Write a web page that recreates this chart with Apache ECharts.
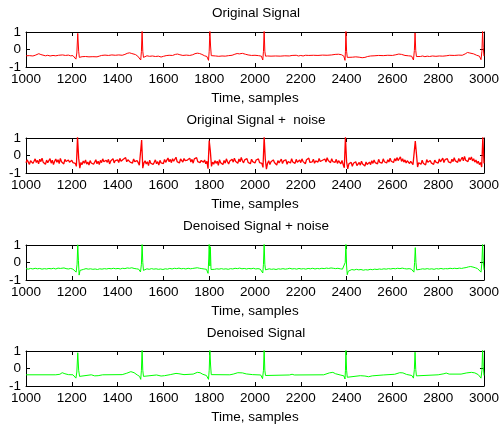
<!DOCTYPE html>
<html>
<head>
<meta charset="utf-8">
<script src="https://cdn.jsdelivr.net/npm/echarts@6/dist/echarts.min.js"></script>
<style>
html,body{margin:0;padding:0;background:#fff;}
#c{width:502px;height:427px;}
</style>
</head>
<body>
<div id="c"></div>
<script>
// ---- Data ----
var titles = ['Original Signal', 'Original Signal +  noise', 'Denoised Signal + noise', 'Denoised Signal'];
var xLabel = 'Time, samples';
var xTicks = [1000, 1200, 1400, 1600, 1800, 2000, 2200, 2400, 2600, 2800, 3000];
var yTicks = [-1, 0, 1];

// Original signal [sample, value]
var originalSignal = [[1000,-0.36],[1015,-0.35],[1030,-0.37],[1040,-0.33],[1048,-0.26],[1056,-0.24],[1065,-0.29],[1072,-0.34],[1085,-0.36],[1095,-0.33],[1105,-0.37],[1118,-0.34],[1130,-0.36],[1142,-0.33],[1150,-0.35],[1160,-0.31],[1172,-0.34],[1185,-0.32],[1195,-0.36],[1205,-0.35],[1212,-0.40],[1218,-0.55],[1222,-0.20],[1226,0.92],[1230,-0.10],[1233,-0.45],[1238,-0.37],[1245,-0.41],[1252,-0.36],[1260,-0.40],[1268,-0.37],[1275,-0.42],[1283,-0.38],[1292,-0.41],[1300,-0.39],[1310,-0.42],[1320,-0.38],[1330,-0.34],[1345,-0.32],[1360,-0.34],[1375,-0.31],[1390,-0.33],[1405,-0.31],[1420,-0.33],[1432,-0.28],[1442,-0.22],[1452,-0.19],[1462,-0.23],[1470,-0.20],[1478,-0.29],[1488,-0.38],[1496,-0.42],[1501,-0.60],[1504,-0.10],[1507,1.10],[1510,-0.10],[1513,-0.45],[1518,-0.38],[1528,-0.36],[1540,-0.39],[1552,-0.37],[1565,-0.40],[1578,-0.38],[1590,-0.43],[1600,-0.39],[1612,-0.35],[1625,-0.33],[1640,-0.34],[1652,-0.28],[1662,-0.26],[1672,-0.30],[1685,-0.34],[1700,-0.32],[1715,-0.34],[1728,-0.30],[1738,-0.24],[1748,-0.21],[1758,-0.23],[1768,-0.28],[1780,-0.36],[1790,-0.40],[1797,-0.62],[1800,-0.10],[1803,1.10],[1806,0.20],[1809,-0.35],[1815,-0.38],[1828,-0.37],[1842,-0.39],[1856,-0.37],[1870,-0.38],[1885,-0.35],[1900,-0.33],[1912,-0.27],[1922,-0.23],[1932,-0.25],[1945,-0.22],[1958,-0.27],[1970,-0.31],[1985,-0.34],[2000,-0.33],[2015,-0.35],[2028,-0.38],[2034,-0.60],[2037,-0.10],[2040,1.10],[2043,-0.10],[2046,-0.38],[2055,-0.37],[2070,-0.38],[2090,-0.37],[2110,-0.38],[2130,-0.36],[2150,-0.37],[2162,-0.34],[2170,-0.36],[2180,-0.33],[2190,-0.37],[2200,-0.34],[2210,-0.37],[2220,-0.33],[2235,-0.34],[2255,-0.33],[2275,-0.34],[2295,-0.32],[2315,-0.33],[2335,-0.31],[2350,-0.28],[2365,-0.27],[2378,-0.30],[2388,-0.38],[2393,-0.62],[2395,-0.10],[2397,1.10],[2400,-0.10],[2403,-0.45],[2410,-0.43],[2425,-0.44],[2440,-0.42],[2455,-0.44],[2468,-0.47],[2480,-0.45],[2492,-0.40],[2505,-0.37],[2520,-0.36],[2540,-0.34],[2560,-0.35],[2580,-0.33],[2600,-0.34],[2615,-0.30],[2628,-0.26],[2640,-0.28],[2655,-0.34],[2670,-0.36],[2684,-0.38],[2692,-0.60],[2696,-0.05],[2699,0.95],[2702,-0.05],[2705,-0.40],[2712,-0.36],[2722,-0.40],[2732,-0.37],[2742,-0.41],[2752,-0.38],[2762,-0.40],[2775,-0.37],[2790,-0.39],[2805,-0.37],[2820,-0.38],[2835,-0.36],[2850,-0.33],[2870,-0.34],[2890,-0.32],[2905,-0.33],[2918,-0.25],[2928,-0.17],[2938,-0.20],[2946,-0.16],[2955,-0.25],[2968,-0.33],[2980,-0.38],[2987,-0.58],[2991,-0.10],[2994,1.10],[2997,0.10],[3000,-0.38]];

// Original signal + noise, one value every 5 samples from 1000 to 3000
var noisyStart = 1000, noisyStep = 5;
var noisySignal = [
-0.42,-0.25,-0.38,-0.51,-0.30,-0.22,-0.45,-0.33,-0.19,-0.40,-0.28,-0.47,-0.21,-0.35,-0.15,-0.38,-0.29,-0.50,-0.26,-0.41,
-0.31,-0.18,-0.44,-0.27,-0.52,-0.33,-0.20,-0.39,-0.24,-0.46,-0.17,-0.36,-0.29,-0.48,-0.22,-0.34,-0.43,-0.26,-0.38,-0.30,
-0.27,-0.41,-0.33,-0.45,-0.62,1.05,-0.15,-0.72,-0.40,-0.52,-0.31,-0.44,-0.26,-0.49,-0.37,-0.55,-0.29,-0.43,-0.35,-0.50,
-0.38,-0.24,-0.47,-0.33,-0.52,-0.28,-0.41,-0.19,-0.36,-0.45,-0.27,-0.39,-0.22,-0.48,-0.31,-0.37,-0.18,-0.42,-0.29,-0.35,
-0.25,-0.40,-0.16,-0.33,-0.44,-0.21,-0.30,-0.12,-0.36,-0.24,-0.19,-0.38,-0.27,-0.43,-0.20,-0.35,-0.46,-0.29,-0.41,-0.56,
-0.65,0.88,-0.72,-0.42,-0.30,-0.49,-0.36,-0.58,-0.27,-0.44,-0.33,-0.51,-0.39,-0.25,-0.47,-0.35,-0.55,-0.28,-0.42,-0.37,
-0.46,-0.23,-0.39,-0.31,-0.14,-0.36,-0.22,-0.41,-0.18,-0.33,-0.27,-0.10,-0.35,-0.24,-0.43,-0.20,-0.31,-0.38,-0.17,-0.29,
-0.40,-0.26,-0.34,-0.15,-0.37,-0.22,-0.44,-0.19,-0.30,-0.12,-0.35,-0.24,-0.41,-0.28,-0.18,-0.39,-0.26,-0.47,-0.33,-0.75,
0.86,0.25,-0.62,-0.38,-0.50,-0.29,-0.45,-0.33,-0.56,-0.24,-0.41,-0.37,-0.52,-0.28,-0.44,-0.19,-0.36,-0.48,-0.31,-0.40,
-0.22,-0.38,-0.15,-0.33,-0.27,-0.45,-0.20,-0.36,-0.11,-0.30,-0.42,-0.25,-0.34,-0.18,-0.39,-0.28,-0.47,-0.21,-0.35,-0.30,
-0.43,-0.26,-0.37,-0.19,-0.41,-0.32,-0.45,-0.68,1.05,-0.20,-0.78,-0.44,-0.30,-0.52,-0.36,-0.47,-0.25,-0.40,-0.33,-0.55,
-0.29,-0.42,-0.36,-0.21,-0.46,-0.31,-0.39,-0.24,-0.50,-0.34,-0.27,-0.43,-0.18,-0.37,-0.30,-0.45,-0.22,-0.38,-0.33,-0.26,
-0.41,-0.19,-0.35,-0.28,-0.47,-0.24,-0.32,-0.15,-0.40,-0.29,-0.36,-0.21,-0.44,-0.31,-0.25,-0.38,-0.17,-0.34,-0.42,-0.27,
-0.33,-0.20,-0.37,-0.13,-0.29,-0.24,-0.41,-0.18,-0.35,-0.26,-0.39,-0.22,-0.45,-0.30,-0.36,-0.48,-0.28,-0.52,-0.70,1.05,
-0.35,-0.76,-0.48,-0.57,-0.39,-0.62,-0.44,-0.53,-0.36,-0.58,-0.47,-0.40,-0.55,-0.33,-0.49,-0.42,-0.60,-0.37,-0.51,-0.45,
-0.38,-0.52,-0.30,-0.45,-0.26,-0.41,-0.35,-0.48,-0.22,-0.39,-0.31,-0.44,-0.19,-0.36,-0.28,-0.43,-0.24,-0.37,-0.15,-0.33,
-0.27,-0.40,-0.18,-0.31,-0.12,-0.29,-0.22,-0.08,-0.34,-0.19,-0.38,-0.25,-0.43,-0.30,-0.21,-0.46,-0.33,-0.40,-0.52,-0.62,
0.82,0.10,-0.66,-0.41,-0.32,-0.50,-0.27,-0.44,-0.36,-0.54,-0.23,-0.39,-0.47,-0.29,-0.42,-0.35,-0.51,-0.26,-0.38,-0.31,
-0.44,-0.20,-0.36,-0.28,-0.15,-0.40,-0.24,-0.33,-0.18,-0.37,-0.29,-0.42,-0.21,-0.35,-0.13,-0.31,-0.26,-0.39,-0.17,-0.34,
-0.23,-0.10,-0.30,-0.05,-0.27,-0.16,-0.35,-0.12,-0.24,-0.08,-0.31,-0.19,-0.38,-0.26,-0.45,-0.33,-0.52,-0.40,-0.66,1.05,
-0.45];

// Denoised signal + noise [sample, value]
var denoisedNoisy = [[1000,-0.35],[1010,-0.38],[1020,-0.34],[1030,-0.37],[1040,-0.33],[1050,-0.36],[1060,-0.34],[1070,-0.38],[1080,-0.35],[1090,-0.37],[1100,-0.34],[1110,-0.36],[1120,-0.33],[1130,-0.37],[1140,-0.32],[1150,-0.34],[1158,-0.28],[1166,-0.31],[1175,-0.35],[1185,-0.37],[1195,-0.34],[1205,-0.38],[1213,-0.36],[1219,-0.55],[1223,-0.10],[1226,1.02],[1229,0.10],[1232,-0.72],[1236,-0.45],[1242,-0.37],[1252,-0.39],[1262,-0.35],[1272,-0.38],[1282,-0.36],[1292,-0.39],[1302,-0.37],[1312,-0.40],[1322,-0.36],[1332,-0.38],[1342,-0.35],[1352,-0.37],[1362,-0.34],[1372,-0.36],[1382,-0.33],[1392,-0.36],[1402,-0.34],[1412,-0.37],[1422,-0.33],[1432,-0.35],[1442,-0.31],[1452,-0.33],[1462,-0.30],[1472,-0.34],[1482,-0.36],[1492,-0.38],[1500,-0.54],[1504,-0.10],[1507,1.05],[1510,0.00],[1513,-0.45],[1518,-0.38],[1528,-0.36],[1538,-0.39],[1548,-0.35],[1558,-0.38],[1568,-0.36],[1578,-0.39],[1588,-0.37],[1598,-0.40],[1608,-0.36],[1618,-0.38],[1628,-0.34],[1638,-0.37],[1648,-0.33],[1658,-0.35],[1668,-0.32],[1678,-0.36],[1688,-0.34],[1698,-0.37],[1708,-0.33],[1718,-0.36],[1728,-0.34],[1738,-0.32],[1748,-0.30],[1758,-0.33],[1768,-0.35],[1778,-0.37],[1788,-0.39],[1795,-0.62],[1798,0.20],[1800,1.10],[1803,-0.20],[1805,0.90],[1808,-0.40],[1813,-0.37],[1823,-0.39],[1833,-0.36],[1843,-0.38],[1853,-0.35],[1863,-0.38],[1873,-0.36],[1883,-0.39],[1893,-0.35],[1903,-0.37],[1913,-0.33],[1923,-0.35],[1933,-0.32],[1943,-0.36],[1953,-0.34],[1963,-0.37],[1973,-0.34],[1983,-0.36],[1993,-0.33],[2003,-0.37],[2013,-0.35],[2023,-0.38],[2030,-0.42],[2034,-0.60],[2037,-0.10],[2040,1.10],[2043,-0.10],[2046,-0.42],[2052,-0.38],[2062,-0.36],[2072,-0.39],[2082,-0.37],[2092,-0.40],[2102,-0.36],[2112,-0.38],[2122,-0.35],[2132,-0.38],[2142,-0.36],[2152,-0.33],[2162,-0.37],[2172,-0.35],[2182,-0.38],[2192,-0.34],[2202,-0.37],[2212,-0.35],[2222,-0.38],[2232,-0.34],[2242,-0.36],[2252,-0.33],[2262,-0.37],[2272,-0.34],[2282,-0.36],[2292,-0.33],[2302,-0.35],[2312,-0.32],[2322,-0.34],[2332,-0.31],[2342,-0.33],[2352,-0.35],[2362,-0.33],[2372,-0.36],[2382,-0.38],[2390,-0.42],[2394,0.00],[2397,1.10],[2400,-0.20],[2403,-0.70],[2407,-0.50],[2413,-0.42],[2423,-0.40],[2433,-0.43],[2443,-0.39],[2453,-0.42],[2463,-0.40],[2473,-0.44],[2483,-0.41],[2493,-0.43],[2503,-0.39],[2513,-0.41],[2523,-0.38],[2533,-0.40],[2543,-0.37],[2553,-0.39],[2563,-0.36],[2573,-0.38],[2583,-0.35],[2593,-0.37],[2603,-0.34],[2613,-0.36],[2623,-0.33],[2633,-0.35],[2643,-0.32],[2653,-0.35],[2663,-0.37],[2673,-0.35],[2683,-0.38],[2690,-0.40],[2694,-0.55],[2697,0.00],[2700,0.85],[2703,0.00],[2706,-0.42],[2712,-0.37],[2722,-0.39],[2732,-0.36],[2742,-0.38],[2752,-0.35],[2762,-0.38],[2772,-0.36],[2782,-0.39],[2792,-0.35],[2802,-0.37],[2812,-0.34],[2822,-0.37],[2832,-0.35],[2842,-0.36],[2852,-0.33],[2862,-0.35],[2872,-0.33],[2882,-0.35],[2892,-0.32],[2902,-0.34],[2912,-0.31],[2922,-0.29],[2932,-0.25],[2942,-0.23],[2952,-0.26],[2962,-0.30],[2972,-0.35],[2980,-0.40],[2987,-0.55],[2991,0.00],[2994,1.10],[2997,0.10],[3000,-0.42]];

// Denoised signal [sample, value]
var denoisedSignal = [[1000,-0.36],[1130,-0.36],[1148,-0.33],[1158,-0.24],[1170,-0.30],[1185,-0.35],[1205,-0.36],[1212,-0.42],[1218,-0.55],[1222,-0.20],[1226,0.90],[1230,-0.10],[1234,-0.45],[1240,-0.36],[1285,-0.36],[1300,-0.42],[1315,-0.41],[1335,-0.36],[1420,-0.35],[1440,-0.27],[1458,-0.18],[1472,-0.24],[1486,-0.37],[1496,-0.45],[1501,-0.62],[1504,-0.10],[1507,1.10],[1510,-0.10],[1513,-0.45],[1520,-0.37],[1570,-0.37],[1590,-0.43],[1605,-0.41],[1630,-0.35],[1655,-0.28],[1668,-0.30],[1690,-0.35],[1730,-0.32],[1748,-0.22],[1760,-0.24],[1772,-0.33],[1788,-0.40],[1797,-0.62],[1800,-0.10],[1803,1.10],[1806,0.20],[1809,-0.35],[1815,-0.37],[1890,-0.36],[1905,-0.32],[1925,-0.24],[1945,-0.25],[1962,-0.31],[1990,-0.35],[2025,-0.37],[2033,-0.58],[2037,-0.10],[2040,1.10],[2043,-0.10],[2046,-0.40],[2052,-0.37],[2150,-0.37],[2162,-0.33],[2172,-0.37],[2300,-0.36],[2325,-0.25],[2340,-0.22],[2352,-0.30],[2375,-0.38],[2388,-0.42],[2393,-0.60],[2395,-0.10],[2397,1.10],[2400,-0.10],[2403,-0.50],[2410,-0.42],[2460,-0.41],[2480,-0.43],[2496,-0.47],[2512,-0.42],[2560,-0.37],[2610,-0.33],[2632,-0.24],[2646,-0.25],[2662,-0.34],[2685,-0.40],[2692,-0.55],[2696,-0.05],[2699,0.93],[2702,-0.05],[2705,-0.42],[2712,-0.37],[2800,-0.36],[2825,-0.30],[2835,-0.26],[2848,-0.32],[2900,-0.32],[2925,-0.25],[2945,-0.22],[2960,-0.25],[2975,-0.35],[2987,-0.55],[2991,-0.10],[2994,1.10],[2997,0.10],[3000,-0.40]];

var lineColors = ['#ff0000', '#ff0000', '#00ff00', '#00ff00'];

// ---- Build chart ----
var noisyData = noisySignal.map(function (v, i) { return [noisyStart + i * noisyStep, v]; });
var seriesData = [originalSignal, noisyData, denoisedNoisy, denoisedSignal];
var lineWidths = [1, 1.3, 1, 1];

var FONT = "'Liberation Sans', Arial, sans-serif";
var gridTops = [32, 138, 245, 351];
var gridH = 35;
var titleCenters = [13, 120, 226, 333];
var plainNum = function (v) { return String(v); };

var grids = [], xAxes = [], yAxes = [], series = [], titleArr = [];
var tickStyle = { show: true, inside: true, length: 4, lineStyle: { color: '#000', width: 1 } };
var lineSt = { show: true, onZero: false, lineStyle: { color: '#000', width: 1 } };

for (var g = 0; g < 4; g++) {
  grids.push({ left: 26, right: 16, top: gridTops[g], height: gridH, containLabel: false });
  xAxes.push({
    type: 'value', gridIndex: g, position: 'bottom',
    min: xTicks[0], max: xTicks[xTicks.length - 1], interval: xTicks[1] - xTicks[0],
    axisLine: lineSt, axisTick: tickStyle, splitLine: { show: false },
    axisLabel: { show: true, margin: 5, color: '#000', fontSize: 13.5, fontFamily: FONT, formatter: plainNum, showMinLabel: true, showMaxLabel: true },
    name: xLabel, nameLocation: 'middle', nameGap: 24,
    nameTextStyle: { color: '#000', fontSize: 13.5, fontFamily: FONT }
  });
  xAxes.push({
    type: 'value', gridIndex: g, position: 'top',
    min: xTicks[0], max: xTicks[xTicks.length - 1], interval: xTicks[1] - xTicks[0],
    axisLine: lineSt, axisTick: tickStyle, splitLine: { show: false }, axisLabel: { show: false }
  });
  yAxes.push({
    type: 'value', gridIndex: g, position: 'left',
    min: yTicks[0], max: yTicks[yTicks.length - 1], interval: yTicks[1] - yTicks[0],
    axisLine: lineSt, axisTick: tickStyle, splitLine: { show: false },
    axisLabel: { show: true, margin: 5, color: '#000', fontSize: 13.5, fontFamily: FONT, formatter: plainNum, showMinLabel: true, showMaxLabel: true }
  });
  yAxes.push({
    type: 'value', gridIndex: g, position: 'right',
    min: yTicks[0], max: yTicks[yTicks.length - 1], interval: yTicks[1] - yTicks[0],
    axisLine: lineSt, axisTick: tickStyle, splitLine: { show: false }, axisLabel: { show: false }
  });
  series.push({
    type: 'line', xAxisIndex: 2 * g, yAxisIndex: 2 * g,
    data: seriesData[g], showSymbol: false, symbol: 'none', clip: true,
    lineStyle: { color: lineColors[g], width: lineWidths[g] }, itemStyle: { color: lineColors[g] },
    animation: false, silent: true
  });
  titleArr.push({
    text: titles[g], left: 256, top: titleCenters[g] - 8, textAlign: 'center', padding: 0,
    textStyle: { color: '#000', fontSize: 13.5, fontWeight: 'normal', fontFamily: FONT, lineHeight: 16 }
  });
}

var chart = echarts.init(document.getElementById('c'), null, { renderer: 'canvas' });
chart.setOption({
  backgroundColor: '#fff',
  animation: false,
  title: titleArr,
  grid: grids,
  xAxis: xAxes,
  yAxis: yAxes,
  series: series
});
</script>
</body>
</html>
